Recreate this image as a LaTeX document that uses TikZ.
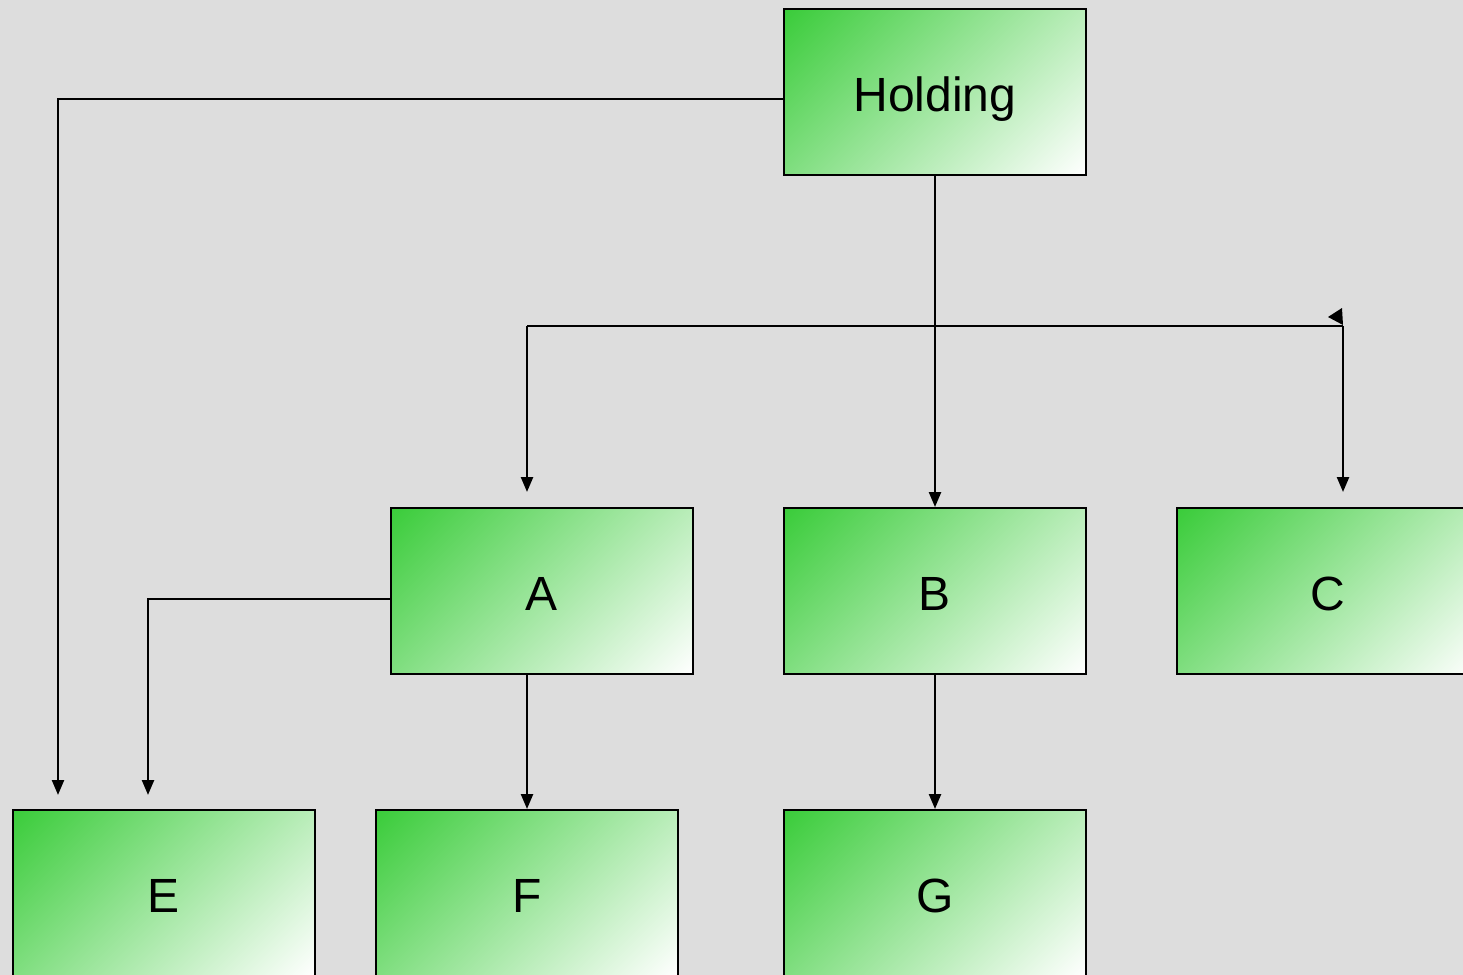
\documentclass[tikz,border=0pt]{standalone}
\usepackage{fontspec}
\setmainfont{Liberation Sans}
\usepackage{tikz}
\usetikzlibrary{positioning,calc,arrows.meta}

\definecolor{boxgreen}{RGB}{58,204,58}
\definecolor{paper}{RGB}{221,221,221}

% corner to corner fade, green in the upper left
\pgfdeclareverticalshading{boxfade}{100bp}{color(0bp)=(white); color(14.64bp)=(white);
  color(85.36bp)=(boxgreen); color(100bp)=(boxgreen)}

\tikzset{
  orgbox/.style={draw=black, line width=1pt, shading=boxfade, shading angle=45,
    minimum width=151pt, minimum height=83pt, inner sep=0pt,
    text height=19pt, text depth=0pt, font=\fontsize{24}{28}\selectfont},
  wire/.style={line width=1.2pt},
  link/.style={wire, -{Triangle[length=7.5pt,width=6pt]}}
}

\begin{document}
\begin{tikzpicture}[x=0.5pt, y=-0.5pt]
    % page
    \clip (0,0) rectangle (1463,975);
    \fill[paper] (0,0) rectangle (1463,975);

    % companies
    \node[orgbox] (hold) at (935,92) {Holding};
    \node[orgbox] (a) at (541.5,591) {A};
    \node[orgbox] (b) at (935,591) {B};
    \node[orgbox] (c) at (1328,591) {C};
    \node[orgbox] (e) at (163.5,893) {E};
    \node[orgbox] (f) at (527,893) {F};
    \node[orgbox] (g) at (935,893) {G};

    % free ends
    \coordinate (eOuter) at (58,795);
    \coordinate (eInner) at (148,795);
    \coordinate (splitL) at (527,326);
    \coordinate (splitR) at (1343,326);
    \coordinate (aIn) at (527,492);
    \coordinate (cIn) at (1343,492);

    % holding links
    \draw[link] ([yshift=-3.5pt]hold.west) -| (eOuter);
    \draw[link] (hold) -- (b);

    % split to A and C
    \draw[wire] (splitL) -- (splitR);
    \draw[link] (splitL) -- (aIn);
    \draw[link] (splitR) -- (cIn);
    \fill (1342,308) -- (1328,317) -- (1343,325) -- cycle;

    % lower level
    \draw[link] ([yshift=-4pt]a.west) -| (eInner);
    \draw[link] (a.south -| f) -- (f);
    \draw[link] (b) -- (g);
\end{tikzpicture}
\end{document}
